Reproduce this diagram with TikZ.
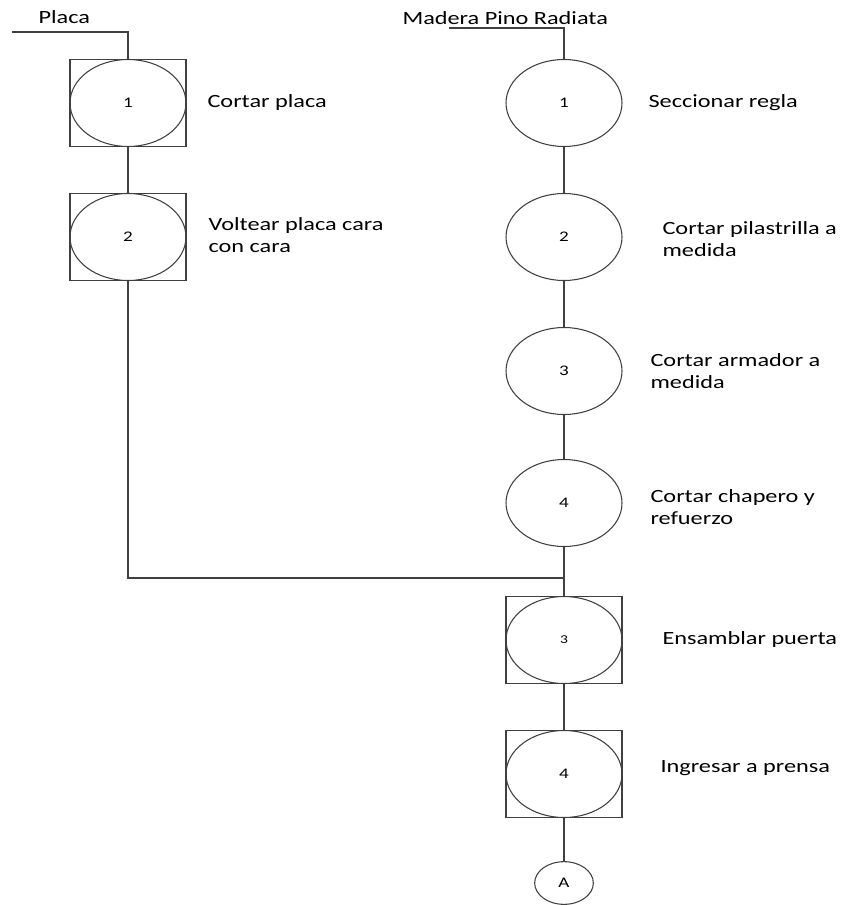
\documentclass[tikz,border=0pt]{standalone}
\usepackage{fontspec}
\setmainfont{Carlito}[FakeStretch=1.3]
\usetikzlibrary{shapes.geometric, positioning}

\tikzset{
	cuadro/.style={draw, rectangle, minimum width=87pt, minimum height=65.25pt, inner sep=0pt},
	opera/.style={draw, ellipse, minimum width=87pt, minimum height=65.25pt, inner sep=0pt, font=\fontsize{11}{13}\selectfont},
	etiq/.style={anchor=west, align=left, font=\fontsize{14}{17}\selectfont, inner sep=0pt},
	conec/.style={draw, ellipse, minimum width=44pt, minimum height=32pt, inner sep=0pt, font=\fontsize{11}{13}\selectfont}
}

\begin{document}
\begin{tikzpicture}[x=0.75pt, y=-0.75pt, line width=0.8pt, draw=black!75]
			\useasboundingbox (0,0) rectangle (841,905);
			
			% Entradas
			\node[etiq] (placa) at (38,17) {Placa};
			\node[etiq] (madera) at (402,18) {Madera Pino Radiata};
			\coordinate (inA) at (12,32);
			\coordinate (inB) at (449,28);
			
			% Linea de la placa
			\node[cuadro] (q1) at (128,103) {};
			\node[opera] (p1) at (q1) {1};
			\node[cuadro] (q2) at (128,237) {};
			\node[opera] (p2) at (q2) {2};
			
			% Linea de la madera
			\node[opera] (m1) at (564,103) {1};
			\node[opera] (m2) at (564,237) {2};
			\node[opera] (m3) at (564,371) {3};
			\node[opera] (m4) at (564,503) {4};
			
			% Ensamble
			\node[cuadro] (q3) at (564,640) {};
			\node[opera] (e3) at (q3) {\fontsize{9}{11}\selectfont 3};
			\node[cuadro] (q4) at (564,774) {};
			\node[opera] (e4) at (q4) {4};
			\node[conec] (fin) at (564,883) {A};
			\coordinate (jn) at (564,578);
			
			% Textos
			\node[etiq] at (207,103) {Cortar placa};
			\node[etiq] at (208,235) {Voltear placa cara\\con cara};
			\node[etiq] at (648,103) {Seccionar regla};
			\node[etiq] at (662,239) {Cortar pilastrilla a\\medida};
			\node[etiq] at (650,371) {Cortar armador a\\medida};
			\node[etiq] at (650,507) {Cortar chapero y\\refuerzo};
			\node[etiq] at (662,640) {Ensamblar puerta};
			\node[etiq] at (660,768) {Ingresar a prensa};
			
			% Conectores
			\draw (inA) -| (q1.north);
			\draw (q1.south) -- (q2.north);
			\draw (q2.south) |- (jn);
			\draw (inB) -| (m1.north);
			\draw (m1.south) -- (m2.north);
			\draw (m2.south) -- (m3.north);
			\draw (m3.south) -- (m4.north);
			\draw (m4.south) -- (jn) -- (q3.north);
			\draw (q3.south) -- (q4.north);
			\draw (q4.south) -- (fin.north);
		\end{tikzpicture}
\end{document}
